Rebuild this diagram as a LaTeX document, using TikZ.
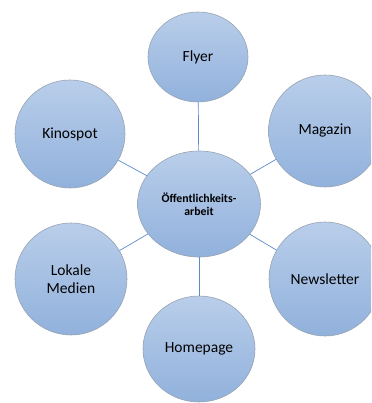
\documentclass[tikz,border=0pt]{standalone}
\usepackage{fontspec}
\setmainfont{Carlito}
\usetikzlibrary{shapes.geometric}
\definecolor{topc}{HTML}{B9CEEA}
\definecolor{botc}{HTML}{91B1DC}
\definecolor{linec}{HTML}{5B8BC6}
\definecolor{rimc}{HTML}{97A3B3}
\tikzset{
  bubble/.style={ellipse, draw=rimc, line width=0.6pt, top color=topc, bottom color=botc,
    inner sep=0pt, align=center, text=black, font=\fontsize{15.5}{18}\selectfont},
  hub/.style={bubble, font=\bfseries\fontsize{11.8}{13.5}\selectfont},
  link/.style={draw=linec, line width=0.7pt}
}
\begin{document}
\begin{tikzpicture}[x=1pt,y=-1pt]
\useasboundingbox (0,0) rectangle (371,403);
\clip (0,0) rectangle (371,403);
\node[hub, minimum width=123pt, minimum height=106pt] (c) at (199,204) {Öffentlichkeits-\\arbeit};
\node[bubble, minimum width=100pt, minimum height=90pt] (f) at (198,57) {Flyer};
\node[bubble, minimum width=113pt, minimum height=112pt] (m) at (325,131) {Magazin};
\node[bubble, minimum width=112pt, minimum height=114pt] (n) at (325,279) {Newsletter};
\node[bubble, minimum width=112pt, minimum height=106pt] (h) at (199,349) {Homepage};
\node[bubble, minimum width=112pt, minimum height=112pt] (l) at (71,279) {Lokale\\Medien};
\node[bubble, minimum width=110pt, minimum height=108pt] (k) at (70,134) {Kinospot};
\foreach \t in {f,m,n,h,l,k} \draw[link] (c) -- (\t);
\end{tikzpicture}
\end{document}
